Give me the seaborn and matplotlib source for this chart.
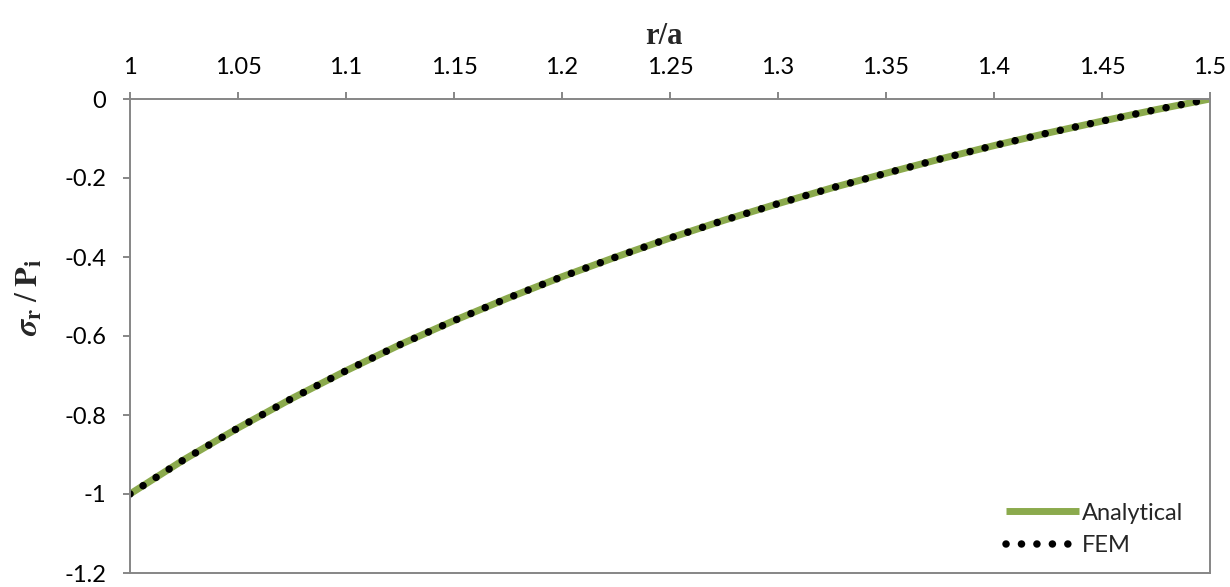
import matplotlib
matplotlib.use("Agg")
import matplotlib.pyplot as plt
import seaborn as sns
import pandas as pd

# Data
r_over_a = [1.000, 1.025, 1.050, 1.075, 1.100, 1.125, 1.150, 1.175, 1.200, 1.225,
            1.250, 1.275, 1.300, 1.325, 1.350, 1.375, 1.400, 1.425, 1.450, 1.475, 1.500]
analytical = [-1.000, -0.913, -0.833, -0.758, -0.688, -0.622, -0.561, -0.504, -0.450, -0.400,
              -0.352, -0.307, -0.265, -0.225, -0.188, -0.152, -0.118, -0.086, -0.056, -0.027, 0.000]
fem = [-1.000, -0.913, -0.833, -0.758, -0.688, -0.622, -0.561, -0.504, -0.450, -0.400,
       -0.352, -0.307, -0.265, -0.225, -0.188, -0.152, -0.118, -0.086, -0.056, -0.027, 0.000]
x_ticks = [1, 1.05, 1.1, 1.15, 1.2, 1.25, 1.3, 1.35, 1.4, 1.45, 1.5]
y_ticks = [0, -0.2, -0.4, -0.6, -0.8, -1, -1.2]

sns.set_theme(style="white")
plt.rcParams['font.family'] = ['Lato', 'DejaVu Sans']
plt.rcParams['axes.unicode_minus'] = False
plt.rcParams['mathtext.fontset'] = 'stix'

df = pd.DataFrame({"r": r_over_a, "Analytical": analytical, "FEM": fem})

fig = plt.figure(figsize=(12.3, 5.87), dpi=100)
ax = fig.add_axes([130/1230, 1 - 573/587, 1080/1230, 474/587])

green = '#8BAA4D'
dot_style = (0, (0.01, 2.05))
sns.lineplot(data=df, x="r", y="Analytical", ax=ax, color=green, lw=5.0,
             label="Analytical", solid_capstyle='butt')
sns.lineplot(data=df, x="r", y="FEM", ax=ax, color='black', lw=5.4,
             label="FEM", dashes=False)
fem_line = ax.get_lines()[-1]
fem_line.set_linestyle(dot_style)
fem_line.set_dash_capstyle('round')

ax.set_xlim(1, 1.5)
ax.set_ylim(-1.2, 0)
ax.set_xticks(x_ticks)
ax.set_xticklabels([f"{v:g}" for v in x_ticks])
ax.set_yticks(y_ticks)
ax.set_yticklabels([f"{v:g}" for v in y_ticks])
ax.xaxis.tick_top()
ax.xaxis.set_label_position('top')

gray = '#868686'
for s in ax.spines.values():
    s.set_color(gray)
    s.set_linewidth(1.4)
ax.tick_params(axis='x', which='both', top=True, bottom=False, direction='out',
               length=5, width=1.4, color=gray, labelsize=17, pad=10, labelcolor='black')
ax.tick_params(axis='y', which='both', left=True, direction='out',
               length=5, width=1.4, color=gray, labelsize=17, pad=12, labelcolor='black')

ax.set_xlabel("r/a", family='Liberation Serif', fontweight='bold', fontsize=22)
ax.xaxis.set_label_coords(0.494, 1.115)
ax.set_ylabel(r'$\boldsymbol{\sigma}_{\mathbf{r}}\;/\;\mathbf{P}_{\mathbf{i}}$', fontsize=23)
ax.yaxis.set_label_coords(-0.08, 0.582)

leg = ax.legend(loc='lower right', frameon=False, fontsize=17, handlelength=3.1,
                handletextpad=0.1, labelspacing=0.5, borderaxespad=0.3,
                bbox_to_anchor=(0.99, 0.0))
leg.legend_handles[1].set_linestyle(dot_style)
leg.legend_handles[1].set_dash_capstyle('round')

fig.savefig("out.png", dpi=100)
